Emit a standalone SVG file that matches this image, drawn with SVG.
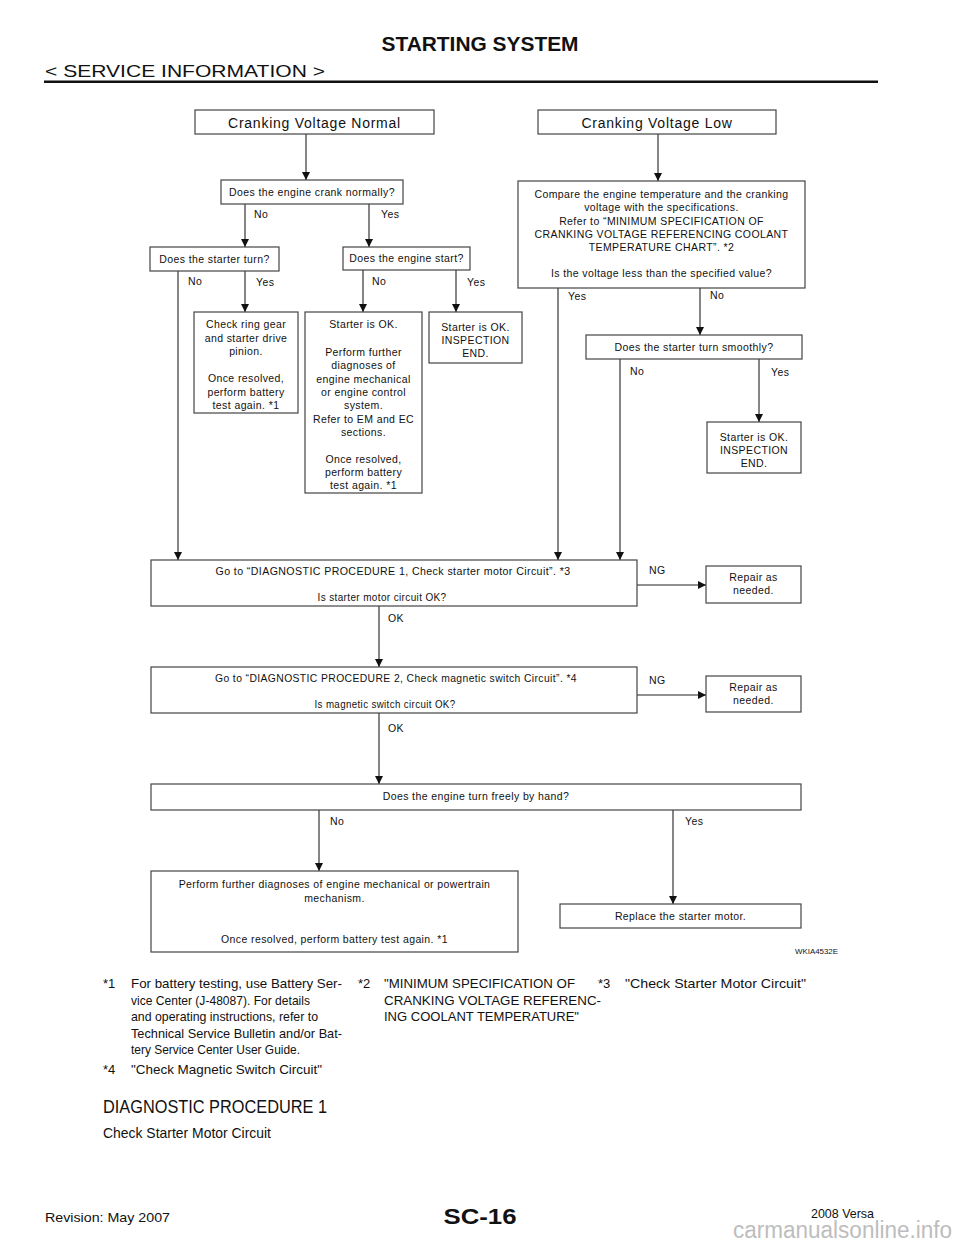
<svg xmlns="http://www.w3.org/2000/svg" width="960" height="1242" viewBox="0 0 960 1242">
<defs>
<marker id="ah" viewBox="0 0 10 10" refX="10" refY="5" markerWidth="8" markerHeight="8" markerUnits="userSpaceOnUse" orient="auto">
<path d="M0,0 L10,5 L0,10 z" fill="#111"/>
</marker>
<style>
.bx{fill:#fff;stroke:#444;stroke-width:1.2}
.t{font-family:"Liberation Sans",Arial,Helvetica,sans-serif;font-size:10.5px;letter-spacing:0.4px;fill:#111;text-anchor:middle}
.big{font-size:14px;letter-spacing:0.75px}
.lb{font-family:"Liberation Sans",Arial,Helvetica,sans-serif;font-size:10.5px;letter-spacing:0.4px;fill:#111}
.nr{font-family:"Liberation Sans Narrow","Liberation Sans",Arial,sans-serif;fill:#111}
.c{stroke:#222;stroke-width:1.1;fill:none}
.ca{stroke:#222;stroke-width:1.1;fill:none;marker-end:url(#ah)}
</style>
</defs>
<rect width="960" height="1242" fill="#fff"/>

<g id="header">
<text class="nr" x="480" y="51" font-size="21" font-weight="bold" text-anchor="middle" textLength="197" lengthAdjust="spacingAndGlyphs">STARTING SYSTEM</text>
<text class="nr" x="45" y="77" font-size="17" textLength="280" lengthAdjust="spacingAndGlyphs">&lt; SERVICE INFORMATION &gt;</text>
<rect x="44" y="80.5" width="834" height="2.5" fill="#111"/>
</g>

<g id="connectors">
<line class="ca" x1="306" y1="134" x2="306" y2="180"/>
<line class="ca" x1="658" y1="134" x2="658" y2="181"/>
<line class="ca" x1="245" y1="204" x2="245" y2="247"/>
<line class="ca" x1="369" y1="204" x2="369" y2="247"/>
<line class="ca" x1="178" y1="271" x2="178" y2="560"/>
<line class="ca" x1="245" y1="271" x2="245" y2="312"/>
<line class="ca" x1="363" y1="270" x2="363" y2="312"/>
<line class="ca" x1="456" y1="270" x2="456" y2="312"/>
<line class="ca" x1="558" y1="288" x2="558" y2="560"/>
<line class="ca" x1="700" y1="288" x2="700" y2="335"/>
<line class="ca" x1="620" y1="359" x2="620" y2="560"/>
<line class="ca" x1="759" y1="359" x2="759" y2="422"/>
<line class="ca" x1="637" y1="585" x2="706" y2="585"/>
<line class="ca" x1="379" y1="606" x2="379" y2="667"/>
<line class="ca" x1="637" y1="695" x2="706" y2="695"/>
<line class="ca" x1="379" y1="713" x2="379" y2="784"/>
<line class="ca" x1="319" y1="810" x2="319" y2="871"/>
<line class="ca" x1="673" y1="810" x2="673" y2="904"/>
<text class="lb" x="254" y="218">No</text>
<text class="lb" x="381" y="218">Yes</text>
<text class="lb" x="188" y="285">No</text>
<text class="lb" x="256" y="286">Yes</text>
<text class="lb" x="372" y="285">No</text>
<text class="lb" x="467" y="286">Yes</text>
<text class="lb" x="568" y="300">Yes</text>
<text class="lb" x="710" y="299">No</text>
<text class="lb" x="630" y="375">No</text>
<text class="lb" x="771" y="376">Yes</text>
<text class="lb" x="649" y="574">NG</text>
<text class="lb" x="388" y="622">OK</text>
<text class="lb" x="649" y="684">NG</text>
<text class="lb" x="388" y="732">OK</text>
<text class="lb" x="330" y="825">No</text>
<text class="lb" x="685" y="825">Yes</text>
</g>

<g id="n-cv-normal">
<rect class="bx" x="195" y="110" width="239" height="24"/>
<text class="t big" x="314.5" y="127.5">Cranking Voltage Normal</text>
</g>
<g id="n-cv-low">
<rect class="bx" x="538" y="110" width="238" height="24"/>
<text class="t big" x="657" y="127.5">Cranking Voltage Low</text>
</g>
<g id="n-crank">
<rect class="bx" x="221" y="180" width="182" height="24"/>
<text class="t" x="312" y="196">Does the engine crank normally?</text>
</g>
<g id="n-starter-turn">
<rect class="bx" x="150" y="247" width="129" height="24"/>
<text class="t" x="214.5" y="263">Does the starter turn?</text>
</g>
<g id="n-engine-start">
<rect class="bx" x="343" y="247" width="127" height="23"/>
<text class="t" x="406.5" y="262">Does the engine start?</text>
</g>
<g id="n-ring-gear">
<rect class="bx" x="194" y="312" width="104" height="101"/>
<text class="t" x="246" y="328">Check ring gear</text>
<text class="t" x="246" y="341.5">and starter drive</text>
<text class="t" x="246" y="355">pinion.</text>
<text class="t" x="246" y="382">Once resolved,</text>
<text class="t" x="246" y="395.5">perform battery</text>
<text class="t" x="246" y="409">test again. *1</text>
</g>
<g id="n-starter-ok-1">
<rect class="bx" x="305" y="312" width="117" height="181"/>
<text class="t" x="363.5" y="328">Starter is OK.</text>
<text class="t" x="363.5" y="356">Perform further</text>
<text class="t" x="363.5" y="369">diagnoses of</text>
<text class="t" x="363.5" y="382.5">engine mechanical</text>
<text class="t" x="363.5" y="396">or engine control</text>
<text class="t" x="363.5" y="409">system.</text>
<text class="t" x="363.5" y="422.5">Refer to EM and EC</text>
<text class="t" x="363.5" y="436">sections.</text>
<text class="t" x="363.5" y="463">Once resolved,</text>
<text class="t" x="363.5" y="476">perform battery</text>
<text class="t" x="363.5" y="489">test again. *1</text>
</g>
<g id="n-starter-ok-2">
<rect class="bx" x="429" y="312" width="93" height="51"/>
<text class="t" x="475.5" y="331">Starter is OK.</text>
<text class="t" x="475.5" y="344">INSPECTION</text>
<text class="t" x="475.5" y="357">END.</text>
</g>
<g id="n-compare">
<rect class="bx" x="518" y="181" width="287" height="107"/>
<text class="t" x="661.5" y="198">Compare the engine temperature and the cranking</text>
<text class="t" x="661.5" y="211">voltage with the specifications.</text>
<text class="t" x="661.5" y="224.5">Refer to “MINIMUM SPECIFICATION OF</text>
<text class="t" x="661.5" y="238">CRANKING VOLTAGE REFERENCING COOLANT</text>
<text class="t" x="661.5" y="251">TEMPERATURE CHART”. *2</text>
<text class="t" x="661.5" y="277">Is the voltage less than the specified value?</text>
</g>
<g id="n-smoothly">
<rect class="bx" x="586" y="335" width="216" height="24"/>
<text class="t" x="694" y="351">Does the starter turn smoothly?</text>
</g>
<g id="n-starter-ok-3">
<rect class="bx" x="707" y="422" width="94" height="51"/>
<text class="t" x="754" y="441">Starter is OK.</text>
<text class="t" x="754" y="454">INSPECTION</text>
<text class="t" x="754" y="467">END.</text>
</g>
<g id="n-proc1">
<rect class="bx" x="151" y="560" width="486" height="46"/>
<text class="t" x="393" y="575" textLength="355" lengthAdjust="spacingAndGlyphs" letter-spacing="0">Go to “DIAGNOSTIC PROCEDURE 1, Check starter motor Circuit”. *3</text>
<text class="t" x="382" y="601" textLength="129" lengthAdjust="spacingAndGlyphs" letter-spacing="0">Is starter motor circuit OK?</text>
</g>
<g id="n-repair1">
<rect class="bx" x="706" y="566" width="95" height="37"/>
<text class="t" x="753.5" y="581">Repair as</text>
<text class="t" x="753.5" y="594">needed.</text>
</g>
<g id="n-proc2">
<rect class="bx" x="151" y="667" width="486" height="46"/>
<text class="t" x="396" y="682" textLength="362" lengthAdjust="spacingAndGlyphs" letter-spacing="0">Go to “DIAGNOSTIC PROCEDURE 2, Check magnetic switch Circuit”. *4</text>
<text class="t" x="385" y="708" textLength="141" lengthAdjust="spacingAndGlyphs" letter-spacing="0">Is magnetic switch circuit OK?</text>
</g>
<g id="n-repair2">
<rect class="bx" x="706" y="676" width="95" height="36"/>
<text class="t" x="753.5" y="691">Repair as</text>
<text class="t" x="753.5" y="704">needed.</text>
</g>
<g id="n-freely">
<rect class="bx" x="151" y="784" width="650" height="26"/>
<text class="t" x="476" y="800">Does the engine turn freely by hand?</text>
</g>
<g id="n-further">
<rect class="bx" x="151" y="871" width="367" height="81"/>
<text class="t" x="334.5" y="888">Perform further diagnoses of engine mechanical or powertrain</text>
<text class="t" x="334.5" y="902">mechanism.</text>
<text class="t" x="334.5" y="943">Once resolved, perform battery test again. *1</text>
</g>
<g id="n-replace">
<rect class="bx" x="560" y="904" width="241" height="24"/>
<text class="t" x="680.5" y="920">Replace the starter motor.</text>
</g>
<text class="nr" x="795" y="954" font-size="7.5" textLength="43" lengthAdjust="spacingAndGlyphs">WKIA4532E</text>

<g id="footnotes" font-size="13">
<text class="nr" x="103" y="988">*1</text>
<text class="nr" x="131" y="988" textLength="211" lengthAdjust="spacingAndGlyphs">For battery testing, use Battery Ser-</text>
<text class="nr" x="131" y="1004.5" textLength="179" lengthAdjust="spacingAndGlyphs">vice Center (J-48087). For details</text>
<text class="nr" x="131" y="1021" textLength="187" lengthAdjust="spacingAndGlyphs">and operating instructions, refer to</text>
<text class="nr" x="131" y="1037.5" textLength="211" lengthAdjust="spacingAndGlyphs">Technical Service Bulletin and/or Bat-</text>
<text class="nr" x="131" y="1054" textLength="169" lengthAdjust="spacingAndGlyphs">tery Service Center User Guide.</text>
<text class="nr" x="358" y="988">*2</text>
<text class="nr" x="384" y="988" textLength="191" lengthAdjust="spacingAndGlyphs">"MINIMUM SPECIFICATION OF</text>
<text class="nr" x="384" y="1004.5" textLength="217" lengthAdjust="spacingAndGlyphs">CRANKING VOLTAGE REFERENC-</text>
<text class="nr" x="384" y="1021" textLength="195" lengthAdjust="spacingAndGlyphs">ING COOLANT TEMPERATURE"</text>
<text class="nr" x="598" y="988">*3</text>
<text class="nr" x="625" y="988" textLength="181" lengthAdjust="spacingAndGlyphs">"Check Starter Motor Circuit"</text>
<text class="nr" x="103" y="1074">*4</text>
<text class="nr" x="131" y="1074" textLength="191" lengthAdjust="spacingAndGlyphs">"Check Magnetic Switch Circuit"</text>
</g>
<text class="nr" x="103" y="1113" font-size="18" textLength="224" lengthAdjust="spacingAndGlyphs">DIAGNOSTIC PROCEDURE 1</text>
<text class="nr" x="103" y="1138" font-size="15" textLength="168" lengthAdjust="spacingAndGlyphs">Check Starter Motor Circuit</text>

<g id="footer">
<text class="nr" x="45" y="1222" font-size="13" textLength="125" lengthAdjust="spacingAndGlyphs">Revision: May 2007</text>
<text class="nr" x="480" y="1224" font-size="22" font-weight="bold" text-anchor="middle" textLength="73" lengthAdjust="spacingAndGlyphs">SC-16</text>
<text class="nr" x="811" y="1218" font-size="13" textLength="63" lengthAdjust="spacingAndGlyphs">2008 Versa</text>
<text class="nr" x="733" y="1238" font-size="23" style="fill:#bdbdbd" textLength="219" lengthAdjust="spacingAndGlyphs">carmanualsonline.info</text>
</g>
</svg>
